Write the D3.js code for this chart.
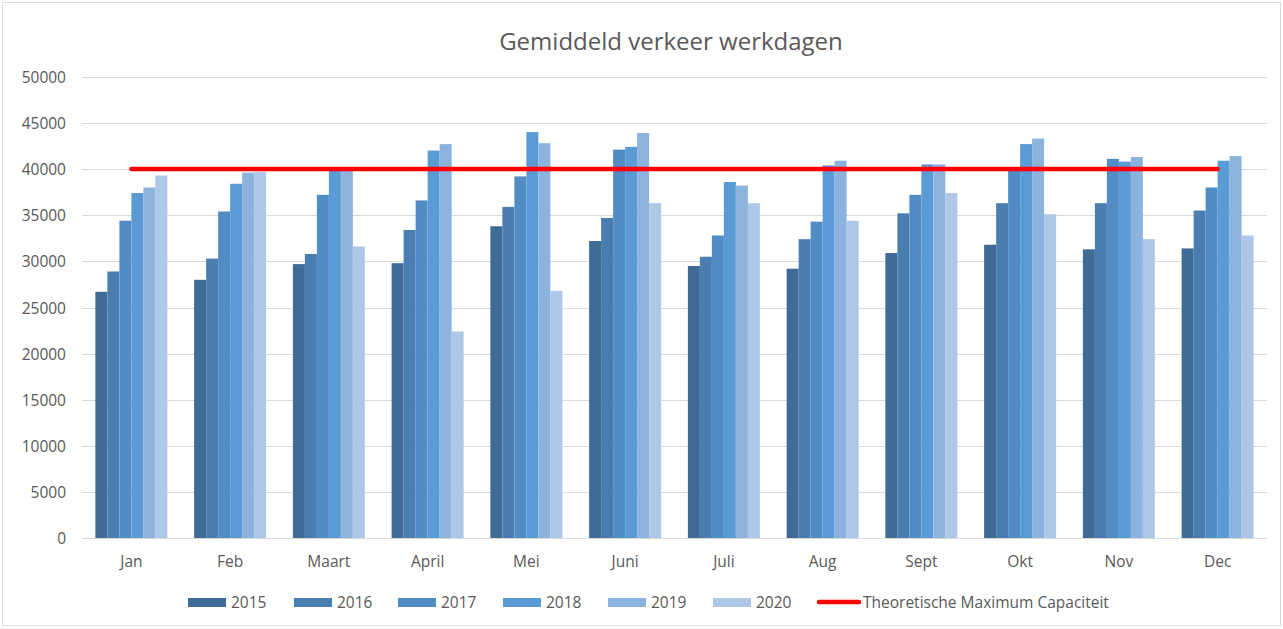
<!DOCTYPE html>
<html>
<head>
<meta charset="utf-8">
<script src="https://cdn.jsdelivr.net/npm/d3@7/dist/d3.min.js"></script>
<style>
  html, body { margin: 0; padding: 0; background: #ffffff; }
  svg { display: block; }
  text { font-family: "Open Sans", "Noto Sans", sans-serif; fill: #595959; }
</style>
</head>
<body>
<svg id="chart" width="1283" height="629"></svg>
<script>
// ---- Data ----
const months = ["Jan", "Feb", "Maart", "April", "Mei", "Juni", "Juli", "Aug", "Sept", "Okt", "Nov", "Dec"];
const years = ["2015", "2016", "2017", "2018", "2019", "2020"];
const v2015 = [26700, 28000, 29700, 29800, 33800, 32200, 29500, 29200, 30900, 31800, 31300, 31400];
const v2016 = [28900, 30300, 30800, 33400, 35900, 34700, 30500, 32400, 35200, 36300, 36300, 35500];
const v2017 = [34400, 35400, 37200, 36600, 39200, 42100, 32800, 34300, 37200, 40100, 41100, 38000];
const v2018 = [37400, 38400, 40100, 42000, 44000, 42400, 38600, 40400, 40500, 42700, 40800, 40900];
const v2019 = [38000, 39600, 40000, 42700, 42800, 43900, 38200, 40900, 40500, 43300, 41300, 41400];
const v2020 = [39300, 39700, 31600, 22400, 26800, 36300, 36300, 34400, 37400, 35100, 32400, 32800];
const capacity = [40000, 40000, 40000, 40000, 40000, 40000, 40000, 40000, 40000, 40000, 40000, 40000];
const yTicks = [0, 5000, 10000, 15000, 20000, 25000, 30000, 35000, 40000, 45000, 50000];
const colors = ["#3f6b96", "#4a7db0", "#528cc5", "#5b9bd5", "#8cb2de", "#aec7e6"];
const titleText = "Gemiddeld verkeer werkdagen";
const lineLabel = "Theoretische Maximum Capaciteit";

const seriesValues = [v2015, v2016, v2017, v2018, v2019, v2020];
const series = years.map((y, i) => ({ year: y, color: colors[i], values: seriesValues[i] }));

// ---- Layout ----
const svg = d3.select("#chart");
const W = 1283, H = 629;
const plot = { left: 82, right: 1267, top: 76.7, bottom: 538.3 };

// border
svg.append("rect")
  .attr("x", 2.5).attr("y", 2.5)
  .attr("width", W - 5).attr("height", H - 6)
  .attr("fill", "#ffffff")
  .attr("stroke", "#d9d9d9").attr("stroke-width", 1);

const x0 = d3.scaleBand()
  .domain(months)
  .range([plot.left, plot.right])
  .paddingInner(0.271)
  .paddingOuter(0.1355);

const x1 = d3.scaleBand()
  .domain(years)
  .range([0, x0.bandwidth()])
  .padding(0);

const y = d3.scaleLinear()
  .domain([0, 50000])
  .range([plot.bottom, plot.top]);

// gridlines
svg.append("g")
  .selectAll("line")
  .data(yTicks)
  .join("line")
  .attr("x1", plot.left).attr("x2", plot.right)
  .attr("y1", d => Math.round(y(d)) + 0.5)
  .attr("y2", d => Math.round(y(d)) + 0.5)
  .attr("stroke", "#d9d9d9")
  .attr("stroke-width", 1);

// y axis labels
const yAxis = d3.axisLeft(y).tickValues(yTicks).tickSize(0).tickPadding(0).tickFormat(d3.format("d"));
const yg = svg.append("g")
  .attr("transform", `translate(${plot.left - 16},0)`)
  .call(yAxis);
yg.select(".domain").remove();
yg.selectAll("text")
  .style("font-size", "15.5px")
  .attr("fill", "#595959")
  .attr("dy", "0.36em");

// bars
const groups = svg.append("g")
  .selectAll("g")
  .data(months.map((m, i) => ({ month: m, idx: i })))
  .join("g")
  .attr("transform", d => `translate(${x0(d.month)},0)`);

groups.selectAll("rect")
  .data(d => series.map(s => ({ year: s.year, color: s.color, value: s.values[d.idx] })))
  .join("rect")
  .attr("x", d => x1(d.year))
  .attr("width", x1.bandwidth())
  .attr("y", d => y(d.value))
  .attr("height", d => y(0) - y(d.value))
  .attr("fill", d => d.color);

// axis baseline
svg.append("line")
  .attr("x1", plot.left).attr("x2", plot.right)
  .attr("y1", Math.round(y(0)) + 0.5).attr("y2", Math.round(y(0)) + 0.5)
  .attr("stroke", "#d9d9d9").attr("stroke-width", 1);

// x axis labels
const xAxis = d3.axisBottom(x0).tickSize(0).tickPadding(0);
const xg = svg.append("g")
  .attr("transform", `translate(0,${plot.bottom + 18})`)
  .call(xAxis);
xg.select(".domain").remove();
xg.selectAll("text")
  .style("font-size", "15.5px")
  .attr("fill", "#595959");

// capacity line
const line = d3.line()
  .x((d, i) => x0(months[i]) + x0.bandwidth() / 2)
  .y(d => y(d));
svg.append("path")
  .datum(capacity)
  .attr("d", line)
  .attr("fill", "none")
  .attr("stroke", "#ff0000")
  .attr("stroke-width", 4.5)
  .attr("stroke-linecap", "round");

// title
svg.append("text")
  .attr("x", 671).attr("y", 50)
  .attr("text-anchor", "middle")
  .style("font-size", "24px")
  .attr("fill", "#595959")
  .text(titleText);

// legend
const legendX = [188, 294, 398, 503, 608, 713];
const lg = svg.append("g");
series.forEach((s, i) => {
  lg.append("rect")
    .attr("x", legendX[i]).attr("y", 598)
    .attr("width", 38).attr("height", 9)
    .attr("fill", s.color);
  lg.append("text")
    .attr("x", legendX[i] + 43).attr("y", 608)
    .style("font-size", "15.5px")
    .attr("fill", "#595959")
    .text(s.year);
});
lg.append("line")
  .attr("x1", 819).attr("x2", 859)
  .attr("y1", 602).attr("y2", 602)
  .attr("stroke", "#ff0000").attr("stroke-width", 4.5)
  .attr("stroke-linecap", "round");
lg.append("text")
  .attr("x", 863).attr("y", 608)
  .style("font-size", "15.5px")
  .attr("fill", "#595959")
  .text(lineLabel);
</script>
</body>
</html>
